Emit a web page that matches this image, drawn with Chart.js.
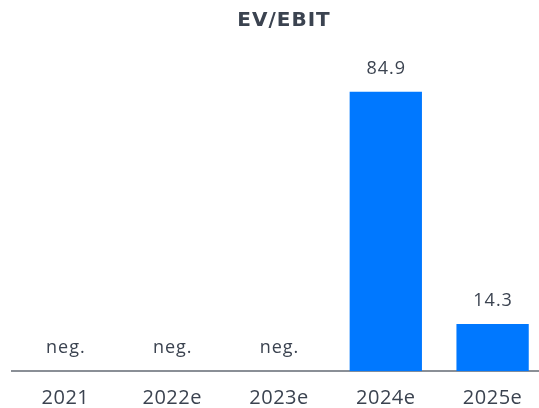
<!DOCTYPE html>
<html>
<head>
<meta charset="utf-8">
<script src="https://cdn.jsdelivr.net/npm/chart.js@4/dist/chart.umd.min.js"></script>
<style>
html,body{margin:0;padding:0;background:#fff;overflow:hidden;width:539px;height:408px;}
#wrap{position:absolute;left:0;top:0;width:567px;height:408px;}
</style>
</head>
<body>
<div id="wrap"><canvas id="c" width="567" height="408"></canvas></div>
<script>
const categories = ["2021", "2022e", "2023e", "2024e", "2025e"];
const values = [null, null, null, 84.9, 14.3];
const valueLabels = ["neg.", "neg.", "neg.", "84.9", "14.3"];
const chartTitle = "EV/EBIT";

const textColor = "#3b4350";
const fontFam = "'Open Sans', sans-serif";

const spacingPlugin = {
  id: "spacing",
  beforeDraw(chart) {
    if ('letterSpacing' in chart.ctx) chart.ctx.letterSpacing = "0.5px";
  }
};

const labelPlugin = {
  id: "valLabels",
  afterDatasetsDraw(chart) {
    const ctx = chart.ctx;
    const meta = chart.getDatasetMeta(0);
    const yScale = chart.scales.y;
    ctx.save();
    ctx.font = "18px " + fontFam;
    if ('letterSpacing' in ctx) ctx.letterSpacing = "1px";
    ctx.fillStyle = textColor;
    ctx.textAlign = "center";
    ctx.textBaseline = "middle";
    meta.data.forEach((bar, i) => {
      const v = values[i];
      const y = (v === null ? yScale.getPixelForValue(0) : bar.y) - 23;
      ctx.fillText(valueLabels[i], bar.x + 0.5, y);
    });
    // title
    ctx.font = "bold 20px 'DejaVu Sans', sans-serif";
    if ('letterSpacing' in ctx) ctx.letterSpacing = "1px";
    ctx.fillText(chartTitle, 284, 21);
    ctx.restore();
  }
};

new Chart(document.getElementById("c"), {
  type: "bar",
  data: {
    labels: categories,
    datasets: [{
      data: values,
      backgroundColor: "#0078ff",
      borderWidth: 0,
      categoryPercentage: 0.677,
      barPercentage: 1.0
    }]
  },
  options: {
    responsive: false,
    animation: false,
    devicePixelRatio: 1,
    layout: { padding: { left: 12, right: 21, top: 42, bottom: -18 } },
    plugins: {
      legend: { display: false },
      tooltip: { enabled: false },
      title: { display: false }
    },
    scales: {
      x: {
        grid: { display: false, drawTicks: false },
        border: { display: true, color: "#8a8f96", width: 2 },
        ticks: { color: textColor, font: { family: fontFam, size: 20 }, padding: 15.4 }
      },
      y: {
        display: false,
        min: 0,
        max: 100
      }
    }
  },
  plugins: [spacingPlugin, labelPlugin]
});
</script>
</body>
</html>
